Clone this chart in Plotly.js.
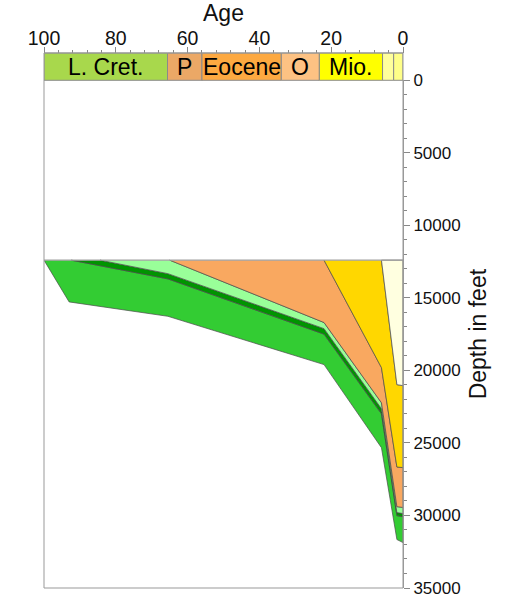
<!DOCTYPE html>
<html>
<head>
<meta charset="utf-8">
<script src="https://cdn.plot.ly/plotly-3.0.1.min.js"></script>
<style>html,body{margin:0;padding:0;background:#fff}#chart{width:506px;height:601px}</style>
</head>
<body>
<div id="chart"></div>
<script>
// Geologic time scale (Ma)
const periodNames  = ['L. Cret.', 'P', 'Eocene', 'O', 'Mio.', '', ''];
const periodStart  = [100, 65.6, 56, 33.9, 23.3, 5.7, 2.6];
const periodEnd    = [65.6, 56, 33.9, 23.3, 5.7, 2.6, 0];
const periodColors = ['#A8D84C', '#EBA866', '#FDA941', '#FDC283', '#FFFF00', '#FFFF9C', '#FFFF88'];

// Burial horizons: age (Ma) and depth (ft)
const ageH0 = [100, 93, 65.5, 22, 6, 1.7, 0];
const depH0 = [12400, 15280, 16270, 19600, 25330, 31660, 31870];
const ageH1 = [92.4, 65.5, 22, 6, 1.7, 0];
const depH1 = [12400, 13690, 17500, 22990, 30010, 30080];
const ageH2 = [84.4, 65.5, 22, 6, 1.7, 0];
const depH2 = [12400, 13330, 17120, 22640, 29800, 29870];
const ageH3 = [65, 22, 6, 1.7, 0];
const depH3 = [12400, 16700, 22230, 29390, 29450];
const ageH4 = [22, 6, 1.7, 0];
const depH4 = [12400, 19810, 26660, 26700];
const ageH5 = [6, 1.7, 0];
const depH5 = [12400, 20980, 21050];
const ageSurf = [100, 0];
const depSurf = [12400, 12400];

const layerColors = ['#33CC33', '#009400', '#99FF99', '#F9A860', '#FFD700', '#FFFFE0'];

const horizons = [
  [ageH0, depH0], [ageH1, depH1], [ageH2, depH2],
  [ageH3, depH3], [ageH4, depH4], [ageH5, depH5],
  [[6, 0], [12400, 12400]]
];

const FONT = 'Liberation Sans, Arial, sans-serif';
const traces = [];
for (let i = 0; i < 6; i++) {
  const lo = horizons[i], up = horizons[i + 1];
  const xs = lo[0].concat(up[0].slice().reverse());
  const ys = lo[1].concat(up[1].slice().reverse());
  traces.push({
    x: xs, y: ys, type: 'scatter', mode: 'lines', fill: 'toself',
    fillcolor: layerColors[i], line: {color: '#4a4a4a', width: 0.7},
    hoverinfo: 'skip', showlegend: false
  });
}
traces.push({
  x: ageSurf, y: depSurf, type: 'scatter', mode: 'lines',
  line: {color: '#a0a0a0', width: 1.2}, hoverinfo: 'skip', showlegend: false
});

// fraction of plot height used by depth axis (rest = time-scale bar)
const D = 0.949;
const shapes = periodStart.map((s, i) => ({
  type: 'rect', xref: 'x', yref: 'paper', x0: s, x1: periodEnd[i], y0: D, y1: 1,
  fillcolor: periodColors[i], line: {color: '#8a8a8a', width: 1}, layer: 'above'
}));
shapes.push({type: 'rect', xref: 'paper', yref: 'paper', x0: 0, x1: 1, y0: 0, y1: 1,
  line: {color: '#999', width: 1}, fillcolor: 'rgba(0,0,0,0)', layer: 'above'});
const annotations = periodNames.map((n, i) => ({
  x: (periodStart[i] + periodEnd[i]) / 2, y: (D + 1) / 2, xref: 'x', yref: 'paper',
  text: n, showarrow: false, font: {family: FONT, size: 23, color: '#000'},
  xanchor: 'center', yanchor: 'middle'
})).filter(a => a.text !== '');

const layout = {
  width: 506, height: 601,
  margin: {l: 44, r: 103, t: 53, b: 12.5},
  paper_bgcolor: '#fff', plot_bgcolor: '#fff',
  font: {family: FONT, color: '#111'},
  xaxis: {
    range: [100, 0], side: 'top', anchor: 'free', position: 1,
    showgrid: false, zeroline: false, showline: false,
    tickvals: [100, 80, 60, 40, 20, 0], ticktext: ['100', '80', '60', '40', '20', '0'],
    ticks: 'outside', ticklen: 6, tickcolor: '#888', tickwidth: 1,
    minor: {dtick: 4, tick0: 0, ticks: 'outside', ticklen: 3, tickcolor: '#888'},
    ticklabelstandoff: -6,
    tickfont: {family: FONT, size: 19.5, color: '#111'},
    title: {text: 'Age', font: {family: FONT, size: 23, color: '#111'}, standoff: 2}
  },
  yaxis: {
    domain: [0, D],
    range: [35000, 0], side: 'right', showgrid: false, zeroline: false, showline: true,
    linecolor: '#999', linewidth: 1,
    tickvals: [0, 5000, 10000, 15000, 20000, 25000, 30000, 35000],
    ticktext: ['0', '5000', '10000', '15000', '20000', '25000', '30000', '35000'],
    ticks: 'outside', ticklen: 6, tickcolor: '#888', tickwidth: 1,
    minor: {dtick: 1000, tick0: 0, ticks: 'outside', ticklen: 3, tickcolor: '#888'},
    tickfont: {family: FONT, size: 17, color: '#111'},
    title: {text: 'Depth in feet', font: {family: FONT, size: 23, color: '#111'}, standoff: 10}
  },
  shapes: shapes,
  annotations: annotations
};

Plotly.newPlot('chart', traces, layout, {staticPlot: true, displayModeBar: false});
</script>
</body>
</html>
